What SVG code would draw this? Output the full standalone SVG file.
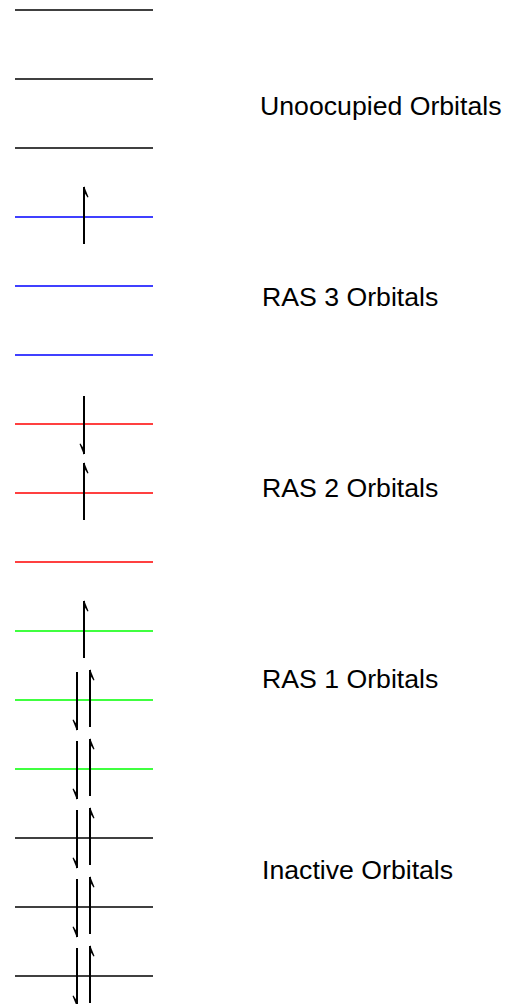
<svg xmlns="http://www.w3.org/2000/svg" xmlns:xlink="http://www.w3.org/1999/xlink" width="509" height="1004" viewBox="0 0 509 1004">
<style>
.lvl{stroke-width:1.5;fill:none}
.k{stroke:#000}.b{stroke:#0000ff}.r{stroke:#ff0000}.g{stroke:#00ff00}
.e{stroke:#000;stroke-width:2;fill:none}
.lbl{font-family:"Liberation Sans",Arial,sans-serif;font-size:26.67px;fill:#000}
</style>
<defs>
<g id="up"><line class="e" x1="0" y1="27" x2="0" y2="-30"/><polygon points="0,-31 4.5,-20 3.5,-19.5 0,-25" fill="#000"/></g>
<g id="dn"><line class="e" x1="0" y1="-28" x2="0" y2="30"/><polygon points="0,31 -4.5,20 -3.5,19.5 0,25" fill="#000"/></g>
</defs>
<g id="orb1"><line class="lvl k" x1="15" y1="10" x2="153" y2="10"/></g>
<g id="orb2"><line class="lvl k" x1="15" y1="79" x2="153" y2="79"/></g>
<g id="orb3"><line class="lvl k" x1="15" y1="148" x2="153" y2="148"/></g>
<g id="orb4"><line class="lvl b" x1="15" y1="217" x2="153" y2="217"/><use xlink:href="#up" x="84" y="217"/></g>
<g id="orb5"><line class="lvl b" x1="15" y1="286" x2="153" y2="286"/></g>
<g id="orb6"><line class="lvl b" x1="15" y1="355" x2="153" y2="355"/></g>
<g id="orb7"><line class="lvl r" x1="15" y1="424" x2="153" y2="424"/><use xlink:href="#dn" x="84" y="424"/></g>
<g id="orb8"><line class="lvl r" x1="15" y1="493" x2="153" y2="493"/><use xlink:href="#up" x="84" y="493"/></g>
<g id="orb9"><line class="lvl r" x1="15" y1="562" x2="153" y2="562"/></g>
<g id="orb10"><line class="lvl g" x1="15" y1="631" x2="153" y2="631"/><use xlink:href="#up" x="84" y="631"/></g>
<g id="orb11"><line class="lvl g" x1="15" y1="700" x2="153" y2="700"/><use xlink:href="#dn" x="77" y="700"/><use xlink:href="#up" x="90" y="700"/></g>
<g id="orb12"><line class="lvl g" x1="15" y1="769" x2="153" y2="769"/><use xlink:href="#dn" x="77" y="769"/><use xlink:href="#up" x="90" y="769"/></g>
<g id="orb13"><line class="lvl k" x1="15" y1="838" x2="153" y2="838"/><use xlink:href="#dn" x="77" y="838"/><use xlink:href="#up" x="90" y="838"/></g>
<g id="orb14"><line class="lvl k" x1="15" y1="907" x2="153" y2="907"/><use xlink:href="#dn" x="77" y="907"/><use xlink:href="#up" x="90" y="907"/></g>
<g id="orb15"><line class="lvl k" x1="15" y1="976" x2="153" y2="976"/><use xlink:href="#dn" x="77" y="976"/><use xlink:href="#up" x="90" y="976"/></g>
<g id="labels">
<text class="lbl" x="260" y="114.8">Unoocupied Orbitals</text>
<text class="lbl" x="262" y="305.8">RAS 3 Orbitals</text>
<text class="lbl" x="262" y="496.8">RAS 2 Orbitals</text>
<text class="lbl" x="262" y="687.8">RAS 1 Orbitals</text>
<text class="lbl" x="262" y="878.8">Inactive Orbitals</text>
</g>
<g id="connectors"/>
</svg>
